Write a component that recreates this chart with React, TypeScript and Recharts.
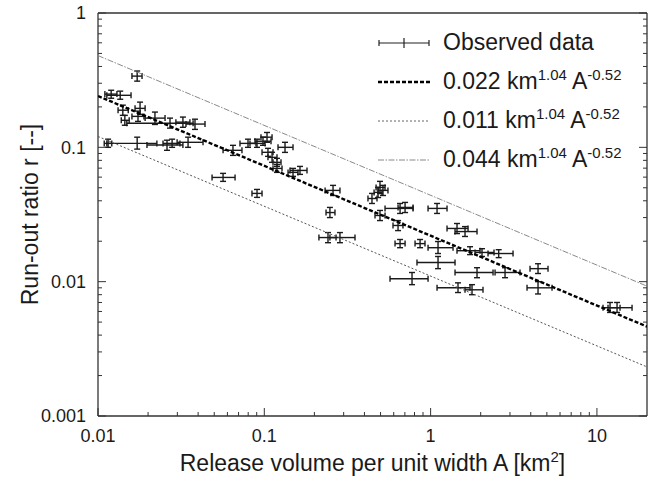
import { ScatterChart, Scatter, XAxis, YAxis, ErrorBar, Legend } from "recharts";

const FONT = '"Liberation Sans", Arial, Helvetica, sans-serif';
const INK = "#1a1a1a";
const FRAME = "#333";

// Release volume per unit width A [km^2]: centre and error-bar ends
const A = [
  0.0172, 0.012, 0.0136, 0.0141, 0.0179, 0.0145, 0.0174, 0.022, 0.0271, 0.0324, 0.0383,
  0.0115, 0.0172, 0.026, 0.0279, 0.0348, 0.0565, 0.0648, 0.0904, 0.0798, 0.0904, 0.0982,
  0.1038, 0.1332, 0.1052, 0.1113, 0.1192, 0.1192, 0.1488, 0.1639, 0.259, 0.248, 0.2415,
  0.285, 0.444, 0.483, 0.496, 0.517, 0.496, 0.655, 0.702, 1.093, 0.637, 0.655, 0.864,
  1.441, 1.61, 1.108, 1.726, 2.037, 2.566, 1.108, 1.901, 2.802, 4.424, 0.773, 1.461,
  1.774, 4.424, 11.99, 13.21,
];
const A_LO = [
  0.016, 0.011, 0.0113, 0.0132, 0.0167, 0.0138, 0.016, 0.0192, 0.0149, 0.0294, 0.0338,
  0.0109, 0.0113, 0.0197, 0.0246, 0.0299, 0.0485, 0.0565, 0.0843, 0.0714, 0.082, 0.0879,
  0.0955, 0.1209, 0.0969, 0.1052, 0.1128, 0.1128, 0.1389, 0.1427, 0.232, 0.235, 0.213,
  0.248, 0.42, 0.457, 0.47, 0.483, 0.463, 0.532, 0.637, 0.965, 0.594, 0.611, 0.806,
  1.255, 1.402, 0.965, 1.441, 1.849, 2.214, 0.828, 1.402, 2.44, 3.96, 0.57, 1.093,
  1.61, 3.799, 10.88, 11.66,
];
const A_HI = [
  0.0184, 0.013, 0.0158, 0.0152, 0.0192, 0.0154, 0.0189, 0.0253, 0.0373, 0.0357, 0.044,
  0.0121, 0.0226, 0.0324, 0.0311, 0.0428, 0.0667, 0.0734, 0.0969, 0.0891, 0.101, 0.1097,
  0.1113, 0.1488, 0.1128, 0.1192, 0.126, 0.1278, 0.1594, 0.1806, 0.285, 0.266, 0.27,
  0.351, 0.476, 0.51, 0.532, 0.554, 0.532, 0.784, 0.784, 1.255, 0.682, 0.702, 0.925,
  1.679, 1.901, 1.364, 1.982, 2.405, 3.13, 1.402, 2.373, 3.448, 5.08, 0.965, 1.726,
  2.065, 5.37, 13.77, 16.26,
];

// Run-out ratio r [--]: centre and error-bar ends
const R = [
  0.339, 0.249, 0.244, 0.189, 0.195, 0.159, 0.17, 0.165, 0.151, 0.154, 0.149,
  0.107, 0.107, 0.104, 0.107, 0.109, 0.0597, 0.095, 0.0454, 0.107, 0.107, 0.111,
  0.119, 0.1, 0.0918, 0.0842, 0.0773, 0.0697, 0.0651, 0.0673, 0.0478, 0.0327, 0.0213,
  0.0213, 0.0416, 0.0462, 0.0503, 0.0478, 0.0311, 0.0351, 0.0357, 0.0351, 0.0262, 0.0192, 0.0192,
  0.0249, 0.0236, 0.0179, 0.017, 0.0165, 0.0162, 0.0139, 0.0117, 0.0117, 0.0125, 0.0105, 0.009,
  0.0087, 0.009, 0.0064, 0.0064,
];
const R_LO = [
  0.311, 0.232, 0.228, 0.173, 0.176, 0.146, 0.156, 0.148, 0.139, 0.141, 0.136,
  0.1, 0.097, 0.095, 0.1, 0.1, 0.0558, 0.0871, 0.0424, 0.1, 0.1, 0.1035,
  0.109, 0.0917, 0.0857, 0.0773, 0.0722, 0.0651, 0.0608, 0.0629, 0.0438, 0.03, 0.0195,
  0.0195, 0.0382, 0.0423, 0.0453, 0.0438, 0.0285, 0.0322, 0.0327, 0.0322, 0.024, 0.0179, 0.0179,
  0.0228, 0.0217, 0.0162, 0.0159, 0.0154, 0.0151, 0.0125, 0.0107, 0.0107, 0.0115, 0.0095, 0.0083,
  0.008, 0.0081, 0.0059, 0.0059,
];
const R_HI = [
  0.37, 0.266, 0.262, 0.206, 0.217, 0.173, 0.186, 0.183, 0.165, 0.168, 0.162,
  0.115, 0.119, 0.113, 0.115, 0.119, 0.064, 0.1035, 0.0486, 0.115, 0.115, 0.119,
  0.129, 0.109, 0.0983, 0.0918, 0.0828, 0.0746, 0.0697, 0.0721, 0.0521, 0.0357, 0.0232,
  0.0232, 0.0454, 0.0503, 0.0558, 0.0521, 0.0339, 0.0382, 0.0389, 0.0382, 0.0285, 0.0206, 0.0206,
  0.0271, 0.0257, 0.0199, 0.0182, 0.0176, 0.0173, 0.0154, 0.0127, 0.0127, 0.0136, 0.0117, 0.0098,
  0.0095, 0.01, 0.007, 0.007,
];

// power-law fits r = c * A^-0.52, ends of the drawn segment
const FIT_A = [0.01, 20];
const FIT_022 = [0.241, 0.00463];
const FIT_011 = [0.1205, 0.00232];
const FIT_044 = [0.482, 0.00926];

const X_TICKS = [
  0.01, 0.02, 0.03, 0.04, 0.05, 0.06, 0.07, 0.08, 0.09,
  0.1, 0.2, 0.3, 0.4, 0.5, 0.6, 0.7, 0.8, 0.9,
  1, 2, 3, 4, 5, 6, 7, 8, 9, 10,
];
const X_MAJOR = [0.01, 0.1, 1, 10];
const X_LABELS = ["0.01", "0.1", "1", "10"];
const Y_TICKS = [
  0.001, 0.002, 0.003, 0.004, 0.005, 0.006, 0.007, 0.008, 0.009,
  0.01, 0.02, 0.03, 0.04, 0.05, 0.06, 0.07, 0.08, 0.09,
  0.1, 0.2, 0.3, 0.4, 0.5, 0.6, 0.7, 0.8, 0.9, 1,
];
const Y_MAJOR = [0.001, 0.01, 0.1, 1];
const Y_LABELS = ["0.001", "0.01", "0.1", "1"];

const points = A.map((a, i) => ({
  a,
  r: R[i],
  ex: [a - A_LO[i], A_HI[i] - a],
  ey: [R[i] - R_LO[i], R_HI[i] - R[i]],
}));
const fitRows = (vals: number[]) => FIT_A.map((a, i) => ({ a, r: vals[i] }));

const MAJOR_LEN = 8;
const MINOR_LEN = 4;
const tickFont = { fontFamily: FONT, fontSize: 18, fill: INK };

/* Ticks point into the frame, so the tick line is drawn by hand with
   tickSize 0: the x/y we get is then exactly the axis line. */
function BottomTick({ x, y, payload }: any) {
  const k = X_MAJOR.indexOf(payload.value);
  const len = k >= 0 ? MAJOR_LEN : MINOR_LEN;
  return (
    <g>
      <line x1={x} x2={x} y1={y} y2={y - len} stroke={FRAME} strokeWidth={1} />
      {k >= 0 && (
        <text x={x} y={y + 26} textAnchor="middle" {...tickFont}>
          {X_LABELS[k]}
        </text>
      )}
    </g>
  );
}

function TopTick({ x, y, payload }: any) {
  const len = X_MAJOR.includes(payload.value) ? MAJOR_LEN : MINOR_LEN;
  return <line x1={x} x2={x} y1={y} y2={y + len} stroke={FRAME} strokeWidth={1} />;
}

function LeftTick({ x, y, payload }: any) {
  const k = Y_MAJOR.indexOf(payload.value);
  const len = k >= 0 ? MAJOR_LEN : MINOR_LEN;
  return (
    <g>
      <line x1={x} x2={x + len} y1={y} y2={y} stroke={FRAME} strokeWidth={1} />
      {k >= 0 && (
        <text x={x - 12} y={y} dy="0.35em" textAnchor="end" {...tickFont}>
          {Y_LABELS[k]}
        </text>
      )}
    </g>
  );
}

function RightTick({ x, y, payload }: any) {
  const len = Y_MAJOR.includes(payload.value) ? MAJOR_LEN : MINOR_LEN;
  return <line x1={x} x2={x - len} y1={y} y2={y} stroke={FRAME} strokeWidth={1} />;
}

function XTitle({ viewBox }: any) {
  if (!viewBox) return null;
  return (
    <text
      x={viewBox.x + viewBox.width / 2}
      y={viewBox.y + 55}
      textAnchor="middle"
      fontFamily={FONT}
      fontSize={23}
      fill={INK}
    >
      Release volume per unit width A [km
      <tspan dy={-9} fontSize={15}>2</tspan>
      <tspan dy={9}>]</tspan>
    </text>
  );
}

function YTitle({ viewBox }: any) {
  if (!viewBox) return null;
  const cx = 30;
  const cy = viewBox.y + viewBox.height / 2;
  return (
    <text
      x={cx}
      y={cy}
      transform={`rotate(-90, ${cx}, ${cy})`}
      textAnchor="middle"
      dy="0.35em"
      fontFamily={FONT}
      fontSize={23}
      fill={INK}
    >
      Run-out ratio r [--]
    </text>
  );
}

const supStyle = { fontSize: 15, position: "relative" as const, top: -9 };

function FitLabel({ c }: { c: string }) {
  return (
    <span>
      {c} km<span style={supStyle}>1.04</span> A<span style={supStyle}>-0.52</span>
    </span>
  );
}

function LegendBox() {
  const rows = [
    {
      key: "obs",
      sample: (
        <g stroke="#222" strokeWidth={1.2}>
          <line x1={1} x2={51} y1={10} y2={10} />
          <line x1={1} x2={1} y1={7} y2={13} />
          <line x1={51} x2={51} y1={7} y2={13} />
          <line x1={26} x2={26} y1={5} y2={15} />
        </g>
      ),
      label: <span>Observed data</span>,
    },
    {
      key: "022",
      sample: <line x1={0} x2={52} y1={10} y2={10} stroke="#000" strokeWidth={2.4} strokeDasharray="4 2" />,
      label: <FitLabel c="0.022" />,
    },
    {
      key: "011",
      sample: <line x1={0} x2={52} y1={10} y2={10} stroke="#666" strokeWidth={1} strokeDasharray="2 2" />,
      label: <FitLabel c="0.011" />,
    },
    {
      key: "044",
      sample: <line x1={0} x2={52} y1={10} y2={10} stroke="#888" strokeWidth={1} strokeDasharray="6 1.5 1.5 1.5" />,
      label: <FitLabel c="0.044" />,
    },
  ];
  return (
    <div style={{ fontFamily: FONT, fontSize: 23, color: INK }}>
      {rows.map((row) => (
        <div key={row.key} style={{ display: "flex", alignItems: "center", height: 39, whiteSpace: "nowrap" }}>
          <svg width={53} height={20} style={{ display: "block" }}>
            {row.sample}
          </svg>
          <span style={{ marginLeft: 12 }}>{row.label}</span>
        </div>
      ))}
    </div>
  );
}

export default function App() {
  return (
    <div style={{ position: "absolute", left: 0, top: 0, width: 665, height: 482, background: "#fff" }}>
      <ScatterChart width={665} height={482} margin={{ top: 12, right: 17, bottom: 0, left: 0 }}>
        <XAxis
          dataKey="a"
          type="number"
          scale="log"
          domain={[0.01, 20]}
          allowDataOverflow
          ticks={X_TICKS}
          interval={0}
          tick={<BottomTick />}
          tickSize={0}
          tickMargin={0}
          tickLine={false}
          axisLine={{ stroke: FRAME, strokeWidth: 1.3 }}
          height={66}
          label={<XTitle />}
        />
        <XAxis
          xAxisId="top"
          orientation="top"
          type="number"
          scale="log"
          domain={[0.01, 20]}
          allowDataOverflow
          ticks={X_TICKS}
          interval={0}
          tick={<TopTick />}
          tickSize={0}
          tickMargin={0}
          tickLine={false}
          axisLine={{ stroke: FRAME, strokeWidth: 1.3 }}
          height={1}
        />
        <YAxis
          dataKey="r"
          type="number"
          scale="log"
          domain={[0.001, 1]}
          allowDataOverflow
          ticks={Y_TICKS}
          interval={0}
          tick={<LeftTick />}
          tickSize={0}
          tickMargin={0}
          tickLine={false}
          axisLine={{ stroke: FRAME, strokeWidth: 1.3 }}
          width={98}
          label={<YTitle />}
        />
        <YAxis
          yAxisId="right"
          orientation="right"
          type="number"
          scale="log"
          domain={[0.001, 1]}
          allowDataOverflow
          ticks={Y_TICKS}
          interval={0}
          tick={<RightTick />}
          tickSize={0}
          tickMargin={0}
          tickLine={false}
          axisLine={{ stroke: FRAME, strokeWidth: 1.3 }}
          width={1}
        />

        <Scatter
          data={fitRows(FIT_044)}
          shape={() => <g />}
          line={{ stroke: "#8a8a8a", strokeWidth: 1, strokeDasharray: "6 1.5 1.5 1.5" }}
          isAnimationActive={false}
        />
        <Scatter
          data={fitRows(FIT_011)}
          shape={() => <g />}
          line={{ stroke: "#555", strokeWidth: 1, strokeDasharray: "2 2" }}
          isAnimationActive={false}
        />
        <Scatter data={points} shape={() => <g />} isAnimationActive={false}>
          <ErrorBar dataKey="ex" direction="x" width={3} stroke="#1a1a1a" strokeWidth={1.4} />
          <ErrorBar dataKey="ey" direction="y" width={3} stroke="#1a1a1a" strokeWidth={1.4} />
        </Scatter>
        <Scatter
          data={fitRows(FIT_022)}
          shape={() => <g />}
          line={{ stroke: "#000", strokeWidth: 2.4, strokeDasharray: "4 2" }}
          isAnimationActive={false}
        />

        <Legend
          layout="vertical"
          align="center"
          verticalAlign="middle"
          content={() => <LegendBox />}
          wrapperStyle={{ left: 378, top: 23, width: 285, height: 160 }}
        />
      </ScatterChart>
    </div>
  );
}
